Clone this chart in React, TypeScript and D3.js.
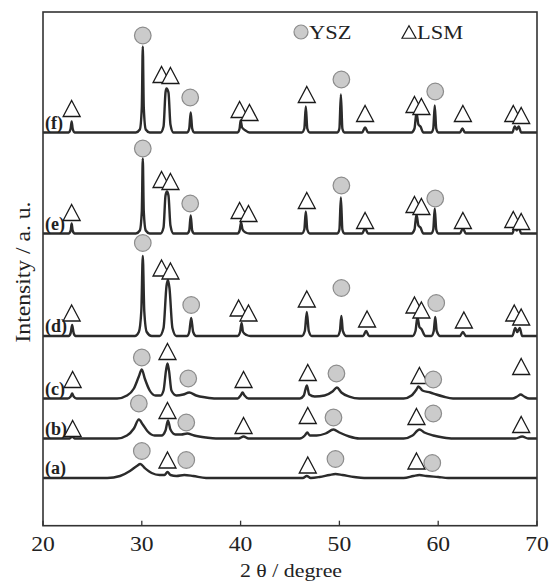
import React from "react";
import * as d3 from "d3";

// ---- data (2θ in degrees, intensity in a.u. above each pattern's own baseline) ----
const xTicks = [20, 30, 40, 50, 60, 70];
const sampleLabels = ["(a)", "(b)", "(c)", "(d)", "(e)", "(f)"];
const sampleOffsets = [47.7, 87.2, 127.2, 189.7, 292.2, 393.2];

const curveA: [number, number][] = [
  [20, 0], [26.5, 0], [27.8, 2], [28.8, 7], [29.5, 12], [29.85, 14], [30.3, 10], [31.0, 5], [31.8, 3],
  [32.3, 3], [32.6, 6], [32.9, 3], [33.5, 2], [34.3, 3], [35.2, 2], [36.5, 0],
  [46.3, 0], [46.7, 2], [47.1, 0], [48.0, 1], [49.0, 3], [49.6, 4], [50.3, 3], [51.5, 1], [52.5, 0],
  [56.5, 0], [57.5, 2], [58.1, 3], [58.8, 2], [60, 1], [61, 0], [70, 0],
];
const curveB: [number, number][] = [
  [20, 0], [22.7, 0], [22.95, 2], [23.2, 0],
  [27.5, 0], [28.5, 3], [29.2, 10], [29.7, 19], [30.1, 14], [30.6, 7], [31.3, 3], [32.0, 3], [32.4, 8],
  [32.65, 18], [32.9, 9], [33.4, 4], [34.0, 4], [34.6, 5], [35.3, 3], [36.5, 1], [37.5, 0],
  [39.8, 0], [40.3, 2], [40.8, 0],
  [46.0, 0], [46.5, 3], [46.75, 6], [47.0, 3], [47.7, 3], [48.6, 5], [49.4, 9], [50.0, 6], [51.0, 2], [52, 0],
  [56.5, 0], [57.4, 3], [58.1, 9], [58.6, 6], [59.5, 3], [60.5, 1], [61.5, 0],
  [67.8, 0], [68.5, 2], [69.1, 0], [70, 0],
];
const curveC: [number, number][] = [
  [20, 0], [22.5, 0], [22.8, 2], [22.95, 5], [23.1, 2], [23.4, 0],
  [27.5, 0], [28.5, 3], [29.2, 10], [29.7, 22], [30.0, 29], [30.3, 20], [30.8, 8], [31.4, 3], [31.9, 3],
  [32.2, 8], [32.45, 28], [32.6, 35], [32.75, 28], [33.0, 8], [33.5, 3], [34.2, 4], [34.8, 6], [35.5, 3],
  [36.5, 1], [37.5, 0],
  [39.7, 0], [40.0, 3], [40.2, 6], [40.4, 3], [40.8, 0],
  [46.0, 0], [46.4, 3], [46.7, 13], [46.95, 4], [47.5, 2], [48.5, 3], [49.3, 7], [49.75, 11], [50.2, 6],
  [51.0, 2], [52, 0],
  [56.5, 0], [57.3, 3], [57.8, 9], [58.0, 12], [58.4, 8], [59.2, 6], [59.8, 4], [60.5, 2], [61.5, 0],
  [67.5, 0], [68.0, 2], [68.35, 4], [68.7, 2], [69.2, 0], [70, 0],
];
const curveD: [number, number][] = [
  [20, 0], [22.6, 0], [22.8, 3], [22.95, 11], [23.1, 3], [23.3, 0],
  [29.3, 0], [29.7, 4], [29.95, 25], [30.1, 80], [30.25, 25], [30.5, 4], [31.0, 0],
  [31.8, 0], [32.2, 8], [32.5, 50], [32.65, 56], [32.8, 48], [33.1, 8], [33.5, 0],
  [34.6, 0], [34.8, 4], [35.0, 18], [35.2, 4], [35.5, 0],
  [39.7, 0], [39.95, 4], [40.1, 13], [40.25, 4], [40.6, 1], [41, 0],
  [46.2, 0], [46.5, 5], [46.7, 24], [46.9, 5], [47.2, 0],
  [49.8, 0], [50.05, 5], [50.2, 20], [50.35, 5], [50.7, 0],
  [52.4, 0], [52.7, 5], [53.0, 0],
  [57.4, 0], [57.7, 5], [57.9, 19], [58.1, 9], [58.3, 7], [58.7, 0],
  [59.3, 0], [59.55, 5], [59.7, 19], [59.85, 5], [60.2, 0],
  [62.2, 0], [62.5, 4], [62.8, 0],
  [67.5, 0], [67.8, 8], [68.0, 4], [68.25, 8], [68.5, 0], [70, 0],
];
const curveE: [number, number][] = [
  [20, 0], [22.6, 0], [22.8, 3], [22.9, 10], [23.0, 3], [23.2, 0],
  [29.4, 0], [29.8, 3], [30.0, 22], [30.1, 75], [30.2, 22], [30.4, 3], [30.8, 0],
  [31.9, 0], [32.2, 6], [32.4, 38], [32.55, 42], [32.7, 38], [32.9, 8], [33.2, 0],
  [34.6, 0], [34.8, 3], [34.95, 18], [35.1, 3], [35.3, 0],
  [39.7, 0], [39.9, 3], [40.05, 11], [40.2, 4], [40.5, 1], [40.9, 0],
  [46.2, 0], [46.45, 4], [46.6, 22], [46.75, 4], [47.0, 0],
  [49.8, 0], [50.0, 4], [50.15, 36], [50.3, 4], [50.5, 0],
  [52.3, 0], [52.6, 5], [52.9, 0],
  [57.3, 0], [57.6, 4], [57.8, 19], [58.0, 8], [58.2, 6], [58.5, 0],
  [59.3, 0], [59.5, 4], [59.65, 25], [59.8, 4], [60.0, 0],
  [62.2, 0], [62.5, 5], [62.8, 0],
  [67.5, 0], [67.75, 6], [67.95, 3], [68.15, 6], [68.4, 0], [70, 0],
];
const curveF: [number, number][] = [
  [20, 0], [22.6, 0], [22.8, 4], [22.9, 11], [23.0, 4], [23.2, 0],
  [29.4, 0], [29.8, 3], [30.0, 25], [30.1, 86], [30.2, 25], [30.4, 3], [30.8, 0],
  [31.9, 0], [32.2, 6], [32.4, 40], [32.5, 44], [32.7, 40], [32.9, 8], [33.2, 0],
  [34.6, 0], [34.8, 4], [34.95, 20], [35.1, 4], [35.3, 0],
  [39.7, 0], [39.9, 4], [40.0, 12], [40.15, 5], [40.5, 2], [40.9, 0],
  [46.2, 0], [46.45, 4], [46.6, 26], [46.75, 4], [47.0, 0],
  [49.8, 0], [50.0, 4], [50.15, 38], [50.3, 4], [50.5, 0],
  [52.3, 0], [52.6, 5], [52.9, 0],
  [57.3, 0], [57.6, 4], [57.8, 20], [58.0, 8], [58.2, 6], [58.5, 0],
  [59.3, 0], [59.5, 4], [59.65, 27], [59.8, 4], [60.0, 0],
  [62.2, 0], [62.45, 4], [62.7, 0],
  [67.5, 0], [67.75, 6], [67.95, 3], [68.15, 6], [68.4, 0], [70, 0],
];
const curves = [curveA, curveB, curveC, curveD, curveE, curveF];

// phase markers: [2θ, height above the pattern baseline]
const yszA: [number, number][] = [[30.0, 27], [34.5, 18], [49.6, 19], [59.4, 15]];
const lsmA: [number, number][] = [[32.6, 18], [46.8, 13], [57.8, 17]];
const yszB: [number, number][] = [[29.7, 35], [34.5, 16], [49.4, 21], [59.5, 25]];
const lsmB: [number, number][] = [[23.0, 10], [32.6, 28], [40.3, 13], [46.8, 23], [57.8, 22], [68.4, 14]];
const yszC: [number, number][] = [[30.0, 41], [34.7, 20], [49.7, 25], [59.5, 19]];
const lsmC: [number, number][] = [[23.0, 19], [32.6, 47], [40.3, 19], [46.8, 26], [58.1, 23], [68.4, 32]];
const yszD: [number, number][] = [[30.1, 93], [35.0, 31], [50.2, 48], [59.8, 33]];
const lsmD: [number, number][] = [[22.9, 23], [32.0, 68], [32.9, 65], [39.8, 28], [40.8, 23], [46.7, 37], [52.8, 17], [57.6, 31], [58.3, 26], [62.6, 16], [67.7, 23], [68.4, 19]];
const yszE: [number, number][] = [[30.1, 85], [34.9, 30], [50.2, 48], [59.7, 35]];
const lsmE: [number, number][] = [[22.9, 21], [32.0, 54], [32.9, 52], [39.9, 23], [40.8, 20], [46.7, 33], [52.6, 13], [57.6, 29], [58.3, 27], [62.5, 13], [67.6, 14], [68.4, 12]];
const yszF: [number, number][] = [[30.1, 97], [34.9, 35], [50.2, 53], [59.7, 41]];
const lsmF: [number, number][] = [[22.9, 24], [32.0, 58], [32.9, 57], [39.9, 23], [40.9, 20], [46.7, 38], [52.6, 19], [57.6, 28], [58.3, 26], [62.5, 19], [67.6, 19], [68.4, 17]];
const yszMarkers = [yszA, yszB, yszC, yszD, yszE, yszF];
const lsmMarkers = [lsmA, lsmB, lsmC, lsmD, lsmE, lsmF];

const legendItems = ["YSZ", "LSM"];

// ---- layout ----
const W = 549, H = 581;
const L = 43, R = 537, T = 12, B = 525.7;
const FONT = "Liberation Serif, Times New Roman, serif";
const SX = 1.18;

const x = d3.scaleLinear().domain([20, 70]).range([L, R]);
const y = d3.scaleLinear().domain([0, B - T]).range([B, T]);

const CIRCLE_R = 8.3;
const TRI_W = 17, TRI_H = 16;

function triPath(cx: number, cy: number, w: number, h: number) {
  return `M${cx},${cy - h / 2}L${cx + w / 2},${cy + h / 2}L${cx - w / 2},${cy + h / 2}Z`;
}

function SText({ x: tx, y: ty, size, anchor = "start", children, sx = SX, weight = "normal" }: any) {
  return (
    <text
      transform={`translate(${tx},${ty}) scale(${sx},1)`}
      fontFamily={FONT}
      fontSize={size}
      fontWeight={weight}
      textAnchor={anchor}
      fill="#222"
    >
      {children}
    </text>
  );
}

export default function App() {
  const line = d3
    .line<[number, number]>()
    .x((d) => x(d[0]))
    .y((d) => y(d[1]))
    .curve(d3.curveMonotoneX);

  return (
    <svg
      width={W}
      height={H}
      style={{ position: "absolute", left: 0, top: 0, background: "#fff" }}
    >
      <rect x={0} y={0} width={W} height={H} fill="#fff" />

      {/* patterns */}
      {curves.map((c, i) => (
        <path
          key={"c" + i}
          d={line(c.map((p) => [p[0], p[1] + sampleOffsets[i]] as [number, number])) || ""}
          fill="none"
          stroke="#2b2b2b"
          strokeWidth={2.4}
          strokeLinejoin="round"
        />
      ))}

      {/* sample labels */}
      {sampleLabels.map((lab, i) => (
        <SText key={"l" + i} x={L + 2} y={y(sampleOffsets[i]) - 4} size={18} sx={1.0} weight="bold">
          {lab}
        </SText>
      ))}

      {/* LSM markers */}
      {lsmMarkers.map((ms, i) =>
        ms.map((m, j) => (
          <path
            key={`t${i}-${j}`}
            d={triPath(x(m[0]), y(m[1] + sampleOffsets[i]), TRI_W, TRI_H)}
            fill="#fff"
            stroke="#1a1a1a"
            strokeWidth={1.3}
            strokeLinejoin="miter"
          />
        ))
      )}

      {/* YSZ markers */}
      {yszMarkers.map((ms, i) =>
        ms.map((m, j) => (
          <circle
            key={`o${i}-${j}`}
            cx={x(m[0])}
            cy={y(m[1] + sampleOffsets[i])}
            r={CIRCLE_R}
            fill="#cbcbcb"
            stroke="#8c8c8c"
            strokeWidth={1.2}
          />
        ))
      )}

      {/* legend */}
      <circle cx={301} cy={32} r={7} fill="#cbcbcb" stroke="#8c8c8c" strokeWidth={1.2} />
      <SText x={309} y={39} size={19}>{legendItems[0]}</SText>
      <path d={triPath(409, 32, 14, 12.5)} fill="#fff" stroke="#1a1a1a" strokeWidth={1.2} />
      <SText x={417} y={39} size={19}>{legendItems[1]}</SText>

      {/* frame */}
      <rect x={L} y={T} width={R - L} height={B - T} fill="none" stroke="#333" strokeWidth={1.6} />

      {/* x ticks (inside) and labels */}
      {xTicks.map((t) => (
        <g key={"xt" + t}>
          <line x1={x(t)} x2={x(t)} y1={B} y2={B - 5} stroke="#333" strokeWidth={1.3} />
          <SText x={x(t)} y={551} size={20} anchor="middle">
            {t}
          </SText>
        </g>
      ))}

      {/* axis titles */}
      <SText x={(L + R) / 2 + 1} y={577} size={19} anchor="middle" sx={1.15}>
        2 θ / degree
      </SText>
      <text
        transform={`translate(30,272) rotate(-90)`}
        fontFamily={FONT}
        fontSize={20}
        textAnchor="middle"
        fill="#222"
        textLength={141}
        lengthAdjust="spacingAndGlyphs"
      >
        Intensity / a. u.
      </text>
    </svg>
  );
}
